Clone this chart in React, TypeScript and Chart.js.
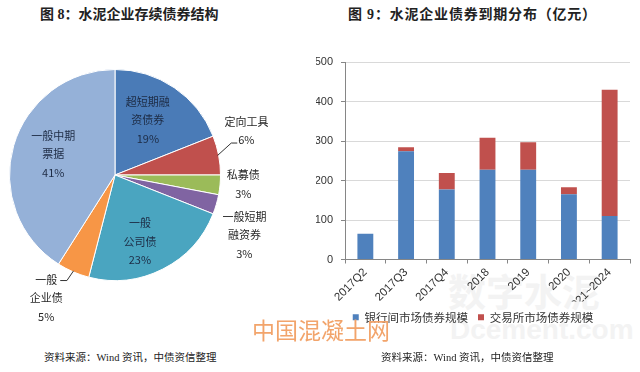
import React, { useEffect, useRef } from 'react';
import { Chart, registerables } from 'chart.js';

Chart.register(...registerables);

// ---------- data ----------
const pieCategories = ['超短期融资债券', '定向工具', '私募债', '一般短期融资券', '一般公司债', '一般企业债', '一般中期票据'];
const pieShares = [19, 6, 3, 3, 23, 5, 41];
const pieLabelLines = [['超短期融', '资债券'], ['定向工具'], ['私募债'], ['一般短期', '融资券'], ['一般', '公司债'], ['一般', '企业债'], ['一般中期', '票据']];

const barCategories = ['2017Q2', '2017Q3', '2017Q4', '2018', '2019', '2020', '2021~2024'];
const interbankValues = [65, 274, 177, 227, 227, 165, 110];
const exchangeValues = [0, 10, 42, 81, 70, 18, 320];
const seriesNames = ['银行间市场债券规模', '交易所市场债券规模'];
const yTickMax = 500;
const yTickStep = 100;

// ---------- styles ----------
const pieColors = ['#4A7BB7', '#C0504D', '#9BBB59', '#8064A2', '#4AA5C0', '#F79646', '#95B1D8'];
const barColors = ['#4F81BD', '#C0504D'];
const CJK = '"Noto Sans CJK SC", "Noto Sans", sans-serif';
const NUM = '"Liberation Sans", "Noto Sans CJK SC", sans-serif';

// label placement relative to each slice's mid angle (degrees offset, radius factor)
const pieLabelLayout: any[] = [
  { dAngle: -3.2, dist: 0.605, color: '#1d2b44' },
  { dAngle: -7.8, dist: 1.314, color: '#262626', leader: { line: 1, side: 'left' } },
  { dAngle: -1.2, dist: 1.22, color: '#262626' },
  { dAngle: 8.7, dist: 1.352, color: '#262626' },
  { dAngle: 6.5, dist: 0.675, color: '#1d2b44' },
  { dAngle: 5.8, dist: 1.336, color: '#262626', leader: { line: 0, side: 'right' } },
  { dAngle: 2.5, dist: 0.618, color: '#1d2b44' },
];

const pieLabelPlugin = {
  id: 'pieLabels',
  afterDatasetsDraw(chart: any) {
    const ctx = chart.ctx;
    const meta = chart.getDatasetMeta(0);
    const lh = 18.5;
    ctx.save();
    ctx.font = '11px ' + CJK;
    ctx.textAlign = 'center';
    ctx.textBaseline = 'middle';
    meta.data.forEach((arc: any, i: number) => {
      const p = arc.getProps(['x', 'y', 'startAngle', 'endAngle', 'outerRadius'], true);
      const mid = (p.startAngle + p.endAngle) / 2;
      const lay = pieLabelLayout[i];
      const a = mid + (lay.dAngle * Math.PI) / 180;
      const d = p.outerRadius * lay.dist;
      const px = p.x + d * Math.cos(a);
      const py = p.y + d * Math.sin(a);
      const lines = [...pieLabelLines[i], pieShares[i] + '%'];
      const y0 = py - ((lines.length - 1) * lh) / 2;
      ctx.fillStyle = lay.color;
      lines.forEach((t, k) => ctx.fillText(t, px, y0 + k * lh));
      if (lay.leader) {
        const ly = y0 + lay.leader.line * lh;
        const w = ctx.measureText(lines[lay.leader.line]).width;
        const sx = p.x + p.outerRadius * 0.99 * Math.cos(mid);
        const sy = p.y + p.outerRadius * 0.99 * Math.sin(mid);
        let tx, ex, yy;
        if (lay.leader.side === 'left') {
          tx = px - w / 2 - 1;
          ex = tx - 6;
          yy = ly + 3;
        } else {
          tx = px + w / 2 + 3;
          ex = tx + 6.7;
          yy = ly + 1;
        }
        ctx.beginPath();
        ctx.strokeStyle = '#333';
        ctx.lineWidth = 1;
        ctx.moveTo(sx, sy);
        ctx.lineTo(ex, yy);
        ctx.lineTo(tx, yy);
        ctx.stroke();
      }
    });
    ctx.restore();
  },
};

function PieChart() {
  const ref = useRef<HTMLCanvasElement>(null);
  useEffect(() => {
    const chart = new Chart(ref.current as HTMLCanvasElement, {
      type: 'pie',
      data: {
        labels: pieCategories,
        datasets: [{ data: pieShares, backgroundColor: pieColors, borderColor: '#ffffff', borderWidth: 1 }],
      },
      options: {
        animation: false,
        responsive: false,
        maintainAspectRatio: false,
        layout: { padding: { left: 9, top: 29, right: 99, bottom: 49 } },
        plugins: { legend: { display: false }, tooltip: { enabled: false } },
      },
      plugins: [pieLabelPlugin],
    } as any);
    return () => chart.destroy();
  }, []);
  return <canvas ref={ref} width={320} height={290} style={{ position: 'absolute', left: 0, top: 40, width: 320, height: 290 }} />;
}

function BarChart() {
  const ref = useRef<HTMLCanvasElement>(null);
  useEffect(() => {
    const chart = new Chart(ref.current as HTMLCanvasElement, {
      type: 'bar',
      data: {
        labels: barCategories,
        datasets: [
          { label: seriesNames[0], data: interbankValues, backgroundColor: barColors[0], barPercentage: 0.39, categoryPercentage: 1 },
          { label: seriesNames[1], data: exchangeValues, backgroundColor: barColors[1], barPercentage: 0.39, categoryPercentage: 1 },
        ],
      },
      options: {
        animation: false,
        responsive: false,
        maintainAspectRatio: false,
        layout: { padding: { top: 22, right: 10, left: 16, bottom: 0 } },
        plugins: {
          legend: {
            position: 'bottom',
            labels: { boxWidth: 6, boxHeight: 6, padding: 10, color: '#333', font: { size: 11.5, family: CJK } },
          },
          tooltip: { enabled: false },
        },
        scales: {
          x: {
            stacked: true,
            grid: { drawOnChartArea: false, tickLength: 4, color: '#868686' },
            border: { color: '#868686' },
            ticks: { minRotation: 45, maxRotation: 45, autoSkip: false, padding: 2, color: '#333', font: { size: 11.5, family: NUM } },
            afterFit: (s: any) => { s.height = 42; },
          },
          y: {
            stacked: true,
            min: 0,
            max: yTickMax,
            ticks: { stepSize: yTickStep, padding: 8, color: '#333', font: { size: 11, family: NUM } },
            grid: { color: '#D9D9D9', tickColor: '#868686', tickLength: 4 },
            border: { color: '#868686' },
            afterFit: (s: any) => { s.width = 29; },
          },
        },
      },
    } as any);
    return () => chart.destroy();
  }, []);
  return <canvas ref={ref} width={340} height={293} style={{ position: 'absolute', left: 300, top: 40, width: 340, height: 293 }} />;
}

const abs = (o: any): any => ({ position: 'absolute', whiteSpace: 'nowrap', margin: 0, ...o });

export default function App() {
  return (
    <div style={{ position: 'fixed', left: 0, top: 0, width: 640, height: 372, background: '#fff', overflow: 'hidden' }}>
      <div style={abs({ left: 448, top: 268, fontSize: 38, lineHeight: '44px', fontWeight: 700, color: '#f3f3f3', fontFamily: CJK })}>数字水泥</div>
      <div style={abs({ left: 450, top: 314, fontSize: 28, lineHeight: '32px', fontWeight: 700, color: '#f3f3f3', fontFamily: NUM })}>Dcement.com</div>
      <div style={abs({ left: 40, top: 7, fontSize: 14, lineHeight: '16px', fontWeight: 700, color: '#222', fontFamily: '"Liberation Serif", "Noto Sans CJK SC", serif' })}>图 8：水泥企业存续债券结构</div>
      <div style={abs({ left: 348, top: 7, fontSize: 14, lineHeight: '16px', fontWeight: 700, letterSpacing: 0.8, color: '#222', fontFamily: '"Liberation Serif", "Noto Sans CJK SC", serif' })}>图 9：水泥企业债券到期分布（亿元）</div>
      <PieChart />
      <BarChart />
      <div style={abs({ left: 252, top: 316, fontSize: 23, lineHeight: '26px', color: '#F2A46B', fontFamily: CJK })}>中国混凝土网</div>
      <div style={abs({ left: 44, top: 351, fontSize: 10.5, lineHeight: '14px', color: '#222', fontFamily: '"Liberation Serif", "Noto Sans CJK SC", serif' })}>资料来源：Wind 资讯，中债资信整理</div>
      <div style={abs({ left: 381, top: 351, fontSize: 10.5, lineHeight: '14px', color: '#222', fontFamily: '"Liberation Serif", "Noto Sans CJK SC", serif' })}>资料来源：Wind 资讯，中债资信整理</div>
    </div>
  );
}
